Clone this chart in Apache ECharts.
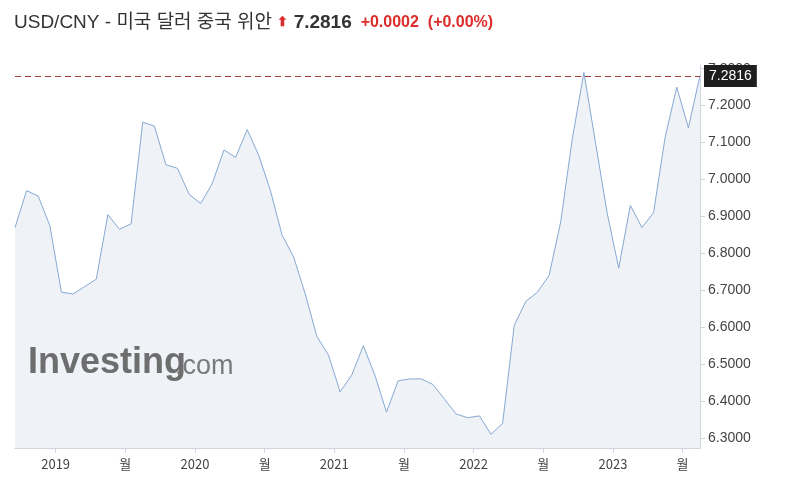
<!DOCTYPE html>
<html>
<head>
<meta charset="utf-8">
<script src="https://cdn.jsdelivr.net/npm/echarts@6/dist/echarts.min.js"></script>
<style>html,body{margin:0;padding:0;background:#fff}#chart{width:789px;height:484px}</style>
</head>
<body>
<div id="chart"></div>
<script>
// month offset from Jan 2019 (points sit mid-month, Sep 2018 .. Aug 2023)
const months = [];
for (let i = 0; i < 60; i++) months.push(-3.5 + i);
const rates = [
  6.87, 6.97, 6.955, 6.875, 6.695, 6.69, 6.71, 6.73, 6.905, 6.865,
  6.88, 7.155, 7.145, 7.04, 7.03, 6.96, 6.935, 6.99, 7.08, 7.06,
  7.135, 7.065, 6.97, 6.85, 6.79, 6.69, 6.575, 6.525, 6.425, 6.47,
  6.55, 6.47, 6.37, 6.455, 6.46, 6.46, 6.445, 6.405, 6.365, 6.355,
  6.36, 6.31, 6.34, 6.605, 6.67, 6.695, 6.74, 6.885, 7.11, 7.29,
  7.1, 6.91, 6.76, 6.93, 6.87, 6.91, 7.115, 7.25, 7.14, 7.2816
];
const xTicks = [0, 6, 12, 18, 24, 30, 36, 42, 48, 54];
const xTickLabels = ['2019', '월', '2020', '월', '2021', '월', '2022', '월', '2023', '월'];
const yTicks = [6.3, 6.4, 6.5, 6.6, 6.7, 6.8, 6.9, 7.0, 7.1, 7.2, 7.3];
const lastPrice = 7.2816;

const chart = echarts.init(document.getElementById('chart'));
chart.setOption({
  animation: false,
  title: {
    left: 9, top: 8,
    text: '{a|USD/CNY - 미국 달러 중국 위안 }{up|⬆}{b| 7.2816}{c|  +0.0002  (+0.00%)}',
    textStyle: {
      rich: {
        a: {fontSize: 19, color: '#333', fontWeight: 'normal', fontFamily: 'Arial, "Noto Sans CJK KR"'},
        up: {fontSize: 13, color: '#dd2c2c', fontWeight: 'bold'},
        b: {fontSize: 19, color: '#333', fontWeight: 'bold', fontFamily: 'Arial'},
        c: {fontSize: 16, color: '#dd2c2c', fontWeight: 'bold', fontFamily: 'Arial'}
      }
    }
  },
  graphic: [
    {type: 'text', left: 28, top: 345, z: 100, style: {
      text: 'Investing', font: 'bold 36px Arial', fill: '#6e6e6e'}},
    {type: 'text', left: 175, top: 353, z: 100, style: {
      text: '.com', font: '27px Arial', fill: '#7a7a7a'}}
  ],
  grid: {left: 15, right: 89, top: 65, bottom: 36},
  xAxis: {
    type: 'value', min: -3.5, max: 55.5,
    axisLine: {show: true, onZero: false, lineStyle: {color: '#cfd6de'}},
    axisTick: {show: true, customValues: xTicks, length: 5, lineStyle: {color: '#cfd6de'}},
    axisLabel: {
      customValues: xTicks, color: '#444', fontSize: 13, margin: 10,
      fontFamily: '"Noto Sans CJK KR", sans-serif',
      formatter: v => xTickLabels[xTicks.indexOf(v)]
    },
    splitLine: {show: false}
  },
  yAxis: {
    type: 'value', position: 'right', min: 6.273, max: 7.31,
    axisLine: {show: true, onZero: false, lineStyle: {color: '#cfd6de'}},
    axisTick: {show: true, customValues: yTicks, length: 5, lineStyle: {color: '#cfd6de'}},
    axisLabel: {
      customValues: yTicks, color: '#444', fontSize: 14, margin: 8,
      formatter: v => v.toFixed(4)
    },
    splitLine: {show: false}
  },
  series: [{
    type: 'line',
    data: months.map((m, i) => [m, rates[i]]),
    showSymbol: false,
    lineStyle: {color: '#86a8d2', width: 1},
    areaStyle: {color: '#e8ecf2', origin: 'start'},
    markLine: {
      silent: true, symbol: 'none',
      lineStyle: {color: '#9e3b3b', type: [6, 4], width: 1},
      label: {
        position: 'end', distance: 4, formatter: lastPrice.toFixed(4),
        color: '#fff', backgroundColor: '#1e1e1e', padding: [4, 5], fontSize: 14
      },
      data: [{yAxis: lastPrice}]
    }
  }]
});
</script>
</body>
</html>
